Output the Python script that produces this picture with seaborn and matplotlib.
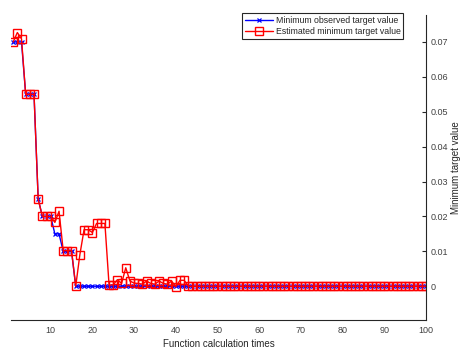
import pandas as pd
import matplotlib
matplotlib.use('Agg')
import matplotlib.pyplot as plt
import seaborn as sns

# Data
iterations = list(range(1, 101))

observed_min = [
    0.07, 0.07, 0.07, 0.055, 0.055, 0.055, 0.025, 0.02, 0.02, 0.02,
    0.015, 0.015, 0.01, 0.01, 0.01, 0.0, 0.0, 0.0, 0.0, 0.0,
    0.0, 0.0, 0.0, 0.0, 0.0, 0.0, 0.0, 0.0, 0.0, 0.0,
    0.0, 0.0, 0.0, 0.0, 0.0, 0.0, 0.0, 0.0, 0.0, 0.0,
    0.0, 0.0, 0.0, 0.0, 0.0, 0.0, 0.0, 0.0, 0.0, 0.0,
    0.0, 0.0, 0.0, 0.0, 0.0, 0.0, 0.0, 0.0, 0.0, 0.0,
    0.0, 0.0, 0.0, 0.0, 0.0, 0.0, 0.0, 0.0, 0.0, 0.0,
    0.0, 0.0, 0.0, 0.0, 0.0, 0.0, 0.0, 0.0, 0.0, 0.0,
    0.0, 0.0, 0.0, 0.0, 0.0, 0.0, 0.0, 0.0, 0.0, 0.0,
    0.0, 0.0, 0.0, 0.0, 0.0, 0.0, 0.0, 0.0, 0.0, 0.0,
]

estimated_min = [
    0.07, 0.0727, 0.0709, 0.055, 0.055, 0.055, 0.025, 0.02, 0.02, 0.02,
    0.0183, 0.0215, 0.0102, 0.0102, 0.0102, 0.0, 0.0091, 0.0162, 0.0162, 0.0154,
    0.018, 0.018, 0.018, 0.0003, 0.0004, 0.0019, 0.0008, 0.0053, 0.0015, 0.0009,
    0.0008, 0.0006, 0.0015, 0.0008, 0.0006, 0.0015, 0.0008, 0.0006, 0.0015, -0.0002,
    0.0017, 0.0017, 0.0, 0.0, 0.0, 0.0, 0.0, 0.0, 0.0, 0.0,
    0.0, 0.0, 0.0, 0.0, 0.0, 0.0, 0.0, 0.0, 0.0, 0.0,
    0.0, 0.0, 0.0, 0.0, 0.0, 0.0, 0.0, 0.0, 0.0, 0.0,
    0.0, 0.0, 0.0, 0.0, 0.0, 0.0, 0.0, 0.0, 0.0, 0.0,
    0.0, 0.0, 0.0, 0.0, 0.0, 0.0, 0.0, 0.0, 0.0, 0.0,
    0.0, 0.0, 0.0, 0.0, 0.0, 0.0, 0.0, 0.0, 0.0, 0.0,
]

x_ticks = [10, 20, 30, 40, 50, 60, 70, 80, 90, 100]
y_ticks = [0, 0.01, 0.02, 0.03, 0.04, 0.05, 0.06, 0.07]
y_tick_labels = ['0', '0.01', '0.02', '0.03', '0.04', '0.05', '0.06', '0.07']

df = pd.DataFrame({'iter': iterations, 'observed': observed_min, 'estimated': estimated_min})

sns.set_style('white')
plt.rcParams['font.family'] = ['Liberation Sans', 'DejaVu Sans']

fig = plt.figure(figsize=(4.62, 3.51), dpi=100)
ax = fig.add_axes([0.024, 0.088, 0.898, 0.869])

sns.lineplot(data=df, x='iter', y='observed', ax=ax, color='#0000ff', linewidth=1.0,
             linestyle='-', marker='x', markersize=3, markeredgewidth=0.9,
             markeredgecolor='#0000ff', label='Minimum observed target value', legend=False)
sns.lineplot(data=df, x='iter', y='estimated', ax=ax, color='#ff0000', linewidth=1.0,
             linestyle='-', marker='s', markersize=5.5, markerfacecolor='none',
             markeredgecolor='#ff0000', markeredgewidth=1.0,
             label='Estimated minimum target value', legend=False)

# make sure marker edges keep the line colour
line_obs, line_est = ax.lines[0], ax.lines[1]
line_obs.set_markeredgecolor('#0000ff')
line_est.set_markeredgecolor('#ff0000')
line_est.set_markerfacecolor('none')

ax.set_xlim(0.5, 100)
ax.set_ylim(-0.0097, 0.0777)
ax.set_xticks(x_ticks)
ax.set_yticks(y_ticks)
ax.set_yticklabels(y_tick_labels)

ax.yaxis.tick_right()
ax.yaxis.set_label_position('right')
ax.spines['left'].set_visible(False)
ax.spines['top'].set_visible(False)
for s in ['bottom', 'right']:
    ax.spines[s].set_color('#262626')
    ax.spines[s].set_linewidth(0.8)

ax.tick_params(axis='both', direction='in', length=3, width=0.8, colors='#262626',
               labelsize=6.5, labelcolor='#404040')
ax.tick_params(axis='x', pad=4)
ax.tick_params(axis='y', pad=3)

ax.set_xlabel('Function calculation times', fontsize=7, color='#262626', labelpad=3)
ax.set_ylabel('Minimum target value', fontsize=7, color='#262626', labelpad=2)

leg = ax.legend(handles=[line_obs, line_est],
                labels=['Minimum observed target value', 'Estimated minimum target value'],
                loc='upper right', bbox_to_anchor=(0.945, 1.007), fontsize=6.3,
                frameon=True, fancybox=False, framealpha=1, edgecolor='#262626',
                borderpad=0.3, handlelength=3.2, handletextpad=0.3, labelspacing=0.3,
                borderaxespad=0)
leg.get_frame().set_linewidth(0.8)

fig.savefig('out.png', dpi=100)
